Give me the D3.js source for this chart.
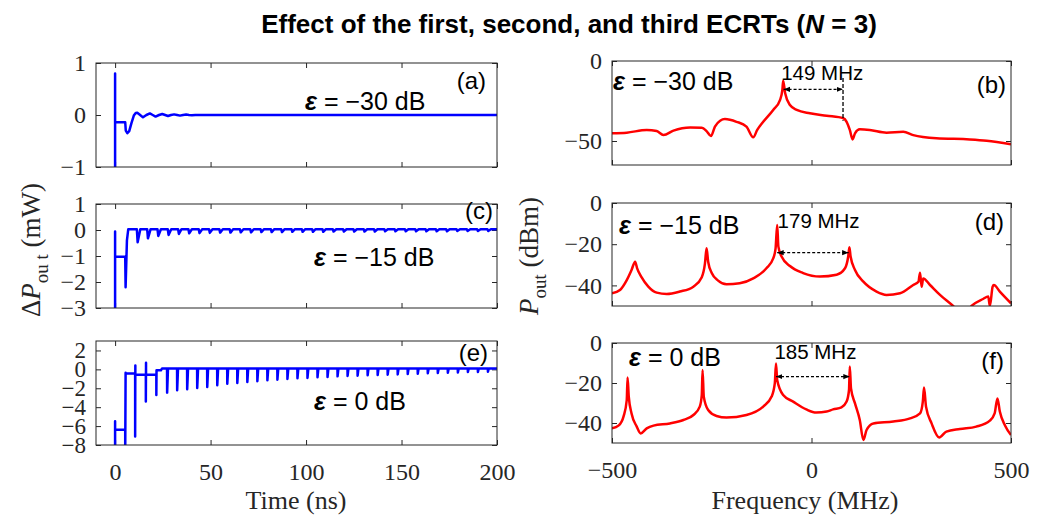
<!DOCTYPE html>
<html><head><meta charset="utf-8">
<script src="https://cdn.jsdelivr.net/npm/d3@7"></script>
<style>body{margin:0;background:#fff}</style>
</head><body>
<svg id="c" width="1040" height="519"></svg>
<script>
// ---------------- DATA ----------------
const timeTicks = [0, 50, 100, 150, 200];
const freqTicks = [-500, 0, 500];
const yTicksA = [-1, 0, 1];
const yTicksC = [-3, -2, -1, 0, 1];
const yTicksE = [-8, -6, -4, -2, 0, 2];
const yTicksB = [-50, 0];
const yTicksD = [-40, -20, 0];
const yTicksF = [-40, -20, 0];

const epsLabels = ["−30 dB", "−15 dB", "0 dB"];
const spacingLabels = ["149 MHz", "179 MHz", "185 MHz"];
// arrow ends [f1, f2, level dBm]
const arrowB = [-70, 79, -17.7];
const arrowD = [-86, 93, -24.1];
const arrowF = [-89, 96, -16.8];
const markerLineB = [79, -10.6, -37.3];

// (a) eps = -30 dB, time trace [t (ns), dP (mW)]
const traceA = [[0,-1.3],[0,0.8],[0,-0.14],[5.3,-0.14],[5.6,-0.3],[6.4,-0.35],[7.4,-0.31],[8.6,-0.15],
  [9.8,-0.01],[10.8,0.04],[11.6,0.045],[12.8,0.01],[14.6,-0.045],[16.4,0],[18.2,0.03],[19.7,0],
  [21.2,-0.03],[23,0],[24.7,0.02],[26.2,0],[27.7,-0.02],[29.3,0],[30.9,0.012],[32.5,0],[34,-0.012],
  [35.6,0],[37.2,0.008],[38.7,0],[40.2,-0.006],[42,0],[200,0]];

// (c) eps = -15 dB
const traceCStart = [[0,-3.3],[0,-0.06],[0,-1.03],[5.3,-1.03],[5.5,-2.2],[6.2,-0.4],[6.9,0.03]];
const baseC = 0.03;
const dipTimesC = [11.4,16.8,22.2,27.6,33.0,38.4,43.8,49.2,54.6,60.0,65.4,70.8,76.2,81.6,87.0,92.4,97.8,
  103.2,108.6,114.0,119.4,124.8,130.2,135.6,141.0,146.4,151.8,157.2,162.6,168.0,173.4,178.8,184.2,189.6,195.0];
const dipDepthsC = [-0.47,-0.32,-0.23,-0.19,-0.15,-0.13,-0.12,-0.11,-0.10,-0.10,-0.09,-0.09,-0.08,-0.08,
  -0.08,-0.07,-0.07,-0.07,-0.07,-0.06,-0.06,-0.06,-0.06,-0.06,-0.05,-0.05,-0.05,-0.05,-0.05,-0.05,-0.05,
  -0.04,-0.04,-0.04,-0.04];

// (e) eps = 0 dB
const traceEStart = [[0,-9],[0,-5.5],[0,-6.4],[5.3,-6.4],[5.3,-9],[5.5,-0.35],[5.5,-0.45],[10.5,-0.45],
  [10.5,-7.1],[10.6,0.4],[10.6,-0.56],[16.1,-0.56],[16.1,-3.4],[16.2,0.7],[16.2,-0.56],[21.6,-0.56],
  [21.6,-2.7],[21.7,-0.1],[24,-0.1],[24.6,0.1]];
const baseE = 0.1;
const spikeTimesE = [27.2,32.45,37.7,42.95,48.2,53.45,58.7,63.95,69.2,74.45,79.7,84.95,90.2,95.45,100.7,
  105.95,111.2,116.45,121.7,126.95,132.2,137.45,142.7,147.95,153.2,158.45,163.7,168.95,174.2,179.45,184.7,189.95,195.2];
const spikeDepthsE = [-2.46,-2.21,-2.1,-1.96,-1.86,-1.68,-1.51,-1.44,-1.33,-1.26,-1.16,-1.09,-1.02,-0.95,
  -0.91,-0.84,-0.81,-0.74,-0.70,-0.67,-0.63,-0.60,-0.56,-0.53,-0.49,-0.46,-0.42,-0.39,-0.35,-0.32,-0.28,-0.28,-0.25];

// spectra [f (MHz), Pout (dBm)]
const specB = [[-500,-45.2],[-463,-44.8],[-413,-43.1],[-388,-43.8],[-371,-46.3],[-346,-43.5],[-304,-41.5],
  [-275,-41.7],[-263,-43.8],[-252,-46.9],[-242,-41],[-229,-37.3],[-217,-36.3],[-188,-38],[-163,-41],
  [-146,-47.7],[-136,-43.1],[-121,-38],[-96,-30.6],[-79,-24.4],[-73,-18.1],[-71,-12.3],[-66,-20.2],
  [-54,-27.5],[-37,-30.6],[-4,-32.7],[38,-34.2],[80,-35.8],[88,-38],[96,-43.1],[103,-49],[109,-45.2],
  [121,-42.7],[146,-43.1],[188,-44.8],[230,-44.2],[255,-46.3],[313,-48.3],[397,-49],[439,-49.8],[500,-52]];
const specD = [[-500,-43.8],[-480,-42.2],[-463,-37.4],[-451,-32.5],[-442,-28.5],[-437,-31.7],[-426,-36],
  [-409,-40.6],[-388,-43.5],[-363,-44.2],[-330,-43],[-296,-40.6],[-275,-36],[-267,-29.3],[-263,-22],
  [-259,-28.5],[-250,-34],[-234,-37.7],[-213,-39.5],[-180,-39],[-146,-36.6],[-113,-31.7],[-96,-26.9],
  [-90,-22],[-86,-10.7],[-83,-21.2],[-75,-26],[-54,-30.6],[-21,-34],[21,-35.7],[63,-34.8],[84,-31.7],
  [92,-26],[95,-21.5],[98,-26],[109,-32.5],[130,-38.2],[163,-43],[188,-44.6],[222,-43.8],[255,-39.8],
  [268,-38.2],[272,-33.8],[276,-40.6],[280,-36.6],[297,-39.8],[322,-44.6],[355,-50],[372,-53],[388,-53],
  [401,-50],[430,-46.6],[443,-45.4],[447,-50],[454,-40.6],[457,-39.8],[472,-43],[500,-48.7]];
const specF = [[-500,-42.7],[-483,-41.2],[-471,-36.7],[-463,-28.5],[-461,-17.2],[-458,-26.8],[-451,-35.2],
  [-438,-41.8],[-428,-45.2],[-413,-42.7],[-396,-41.3],[-355,-40.2],[-321,-38.5],[-296,-36],[-280,-31.8],
  [-275,-26],[-273,-13.5],[-270,-26.8],[-259,-33.5],[-238,-36.5],[-213,-37.3],[-163,-36],[-121,-31.8],
  [-100,-26.8],[-92,-20.2],[-89,-10.2],[-86,-18.5],[-71,-26],[-46,-29.3],[-13,-33.2],[12,-34.8],[38,-34.3],
  [54,-33.2],[75,-32.2],[88,-29.3],[94,-23.5],[96,-11.8],[99,-22.7],[109,-30.2],[121,-38.5],[130,-48.5],
  [138,-43.5],[155,-40.2],[205,-39.3],[247,-37.7],[272,-35.2],[279,-29.3],[282,-22.2],[287,-31.8],
  [301,-40.2],[320,-47.2],[338,-44.3],[372,-43],[413,-41.8],[447,-38.8],[459,-35.2],[466,-27.7],
  [472,-34.3],[485,-41.2],[500,-46]];

// ---------------- BUILD TRACES ----------------
function withDips(start, times, depths, base, down, up) {
  const out = start.slice();
  out.push([times[0], base]);
  times.forEach((t, i) => {
    out.push([t, base]);
    out.push([t + down, depths[i]]);
    out.push([t + up, base]);
  });
  out.push([200, base]);
  return out;
}
const traceC = withDips(traceCStart, dipTimesC, dipDepthsC, baseC, 0.4, 1.8);
const traceE = withDips(traceEStart, spikeTimesE, spikeDepthsE, baseE, 0.05, 0.5);

// ---------------- DRAW ----------------
const svg = d3.select('#c');
const defs = svg.append('defs');
defs.append('marker').attr('id', 'ah').attr('viewBox', '0 0 10 10')
  .attr('refX', 10).attr('refY', 5).attr('markerWidth', 5).attr('markerHeight', 5)
  .attr('orient', 'auto-start-reverse')
  .append('path').attr('d', 'M0,1L10,5L0,9Z').attr('fill', '#000');

const AX = '#262626';
const SERIF = "'Liberation Serif','DejaVu Serif',serif";
const SANS = "'Liberation Sans',Arial,sans-serif";

const L = {x0: 96, x1: 497};
const R = {x0: 612, x1: 1011};
const panels = [
  {id:'a', ...L, y0:63, y1:167, xdom:[-10,200], ydom:[-1,1], xt:timeTicks, yt:yTicksA, data:traceA, color:'#0000ff', curve:d3.curveLinear, showX:false, letter:'(a)', lx:486, ly:89, eps:epsLabels[0], ex:305, ey:110},
  {id:'c', ...L, y0:204, y1:308, xdom:[-10,200], ydom:[-3,1], xt:timeTicks, yt:yTicksC, data:traceC, color:'#0000ff', curve:d3.curveLinear, showX:false, letter:'(c)', lx:493, ly:219, eps:epsLabels[1], ex:314, ey:266},
  {id:'e', ...L, y0:341, y1:445, xdom:[-10,200], ydom:[-8,3], xt:timeTicks, yt:yTicksE, data:traceE, color:'#0000ff', curve:d3.curveLinear, showX:true, letter:'(e)', lx:488, ly:361, eps:epsLabels[2], ex:314, ey:410},
  {id:'b', ...R, y0:61, y1:165, xdom:[-500,500], ydom:[-65,0], xt:freqTicks, yt:yTicksB, data:specB, color:'#ff0000', curve:d3.curveMonotoneX, showX:false, letter:'(b)', lx:1006, ly:93, eps:epsLabels[0], ex:613, ey:90, ann:{arrow:arrowB, text:spacingLabels[0], tf:-76, tv:-11.9, vline:markerLineB}},
  {id:'d', ...R, y0:203, y1:306, xdom:[-500,500], ydom:[-50,0], xt:freqTicks, yt:yTicksD, data:specD, color:'#ff0000', curve:d3.curveMonotoneX, showX:false, letter:'(d)', lx:1004, ly:230, eps:epsLabels[1], ex:619, ey:234, ann:{arrow:arrowD, text:spacingLabels[1], tf:-85, tv:-12.1}},
  {id:'f', ...R, y0:343, y1:443, xdom:[-500,500], ydom:[-50,0], xt:freqTicks, yt:yTicksF, data:specF, color:'#ff0000', curve:d3.curveMonotoneX, showX:true, letter:'(f)', lx:1004, ly:369, eps:epsLabels[2], ex:629, ey:366, ann:{arrow:arrowF, text:spacingLabels[2], tf:-93, tv:-8}},
];

function styleAxis(g) {
  g.attr('font-family', SERIF).attr('font-size', 24).attr('color', AX);
  g.select('.domain').remove();
  g.selectAll('.tick line').attr('stroke', AX).attr('stroke-width', 1);
  g.selectAll('.tick text').attr('fill', AX);
}

panels.forEach(p => {
  const x = d3.scaleLinear().domain(p.xdom).range([p.x0, p.x1]);
  const y = d3.scaleLinear().domain(p.ydom).range([p.y1, p.y0]);
  const g = svg.append('g');
  const cid = 'clip' + p.id;
  defs.append('clipPath').attr('id', cid).append('rect')
    .attr('x', p.x0).attr('y', p.y0).attr('width', p.x1 - p.x0).attr('height', p.y1 - p.y0);

  // axes (ticks inward, mirrored)
  g.append('g').attr('transform', `translate(0,${p.y1})`)
    .call(d3.axisBottom(x).tickValues(p.xt).tickSize(-5).tickPadding(18)
      .tickFormat(p.showX ? d3.format('d') : () => ''))
    .call(styleAxis);
  g.append('g').attr('transform', `translate(0,${p.y0})`)
    .call(d3.axisTop(x).tickValues(p.xt).tickSize(-5).tickFormat(() => ''))
    .call(styleAxis);
  const yAx = g.append('g').attr('transform', `translate(${p.x0},0)`)
    .call(d3.axisLeft(y).tickValues(p.yt).tickSize(-5).tickPadding(10).tickFormat(d3.format('d')))
    .call(styleAxis);
  if (p.yt.length > 5) yAx.attr('font-size', 23);
  g.append('g').attr('transform', `translate(${p.x1},0)`)
    .call(d3.axisRight(y).tickValues(p.yt).tickSize(-5).tickFormat(() => ''))
    .call(styleAxis);

  // data line
  g.append('path').datum(p.data)
    .attr('clip-path', `url(#${cid})`)
    .attr('fill', 'none').attr('stroke', p.color).attr('stroke-width', 2.5)
    .attr('stroke-linejoin', 'round')
    .attr('d', d3.line().x(d => x(d[0])).y(d => y(d[1])).curve(p.curve));

  // frame
  g.append('rect').attr('x', p.x0).attr('y', p.y0)
    .attr('width', p.x1 - p.x0).attr('height', p.y1 - p.y0)
    .attr('fill', 'none').attr('stroke', AX).attr('stroke-width', 1);

  // epsilon label
  const t = g.append('text').attr('x', p.ex).attr('y', p.ey)
    .attr('font-family', SANS).attr('font-size', 25).attr('fill', '#000');
  t.append('tspan').attr('font-style', 'italic').attr('font-weight', 'bold').text('ε');
  t.append('tspan').text(' = ' + p.eps);

  // panel letter
  g.append('text').attr('x', p.lx).attr('y', p.ly).attr('text-anchor', 'end')
    .attr('font-family', SANS).attr('font-size', 24).attr('fill', '#000').text(p.letter);

  // spacing annotation
  if (p.ann) {
    const a = p.ann;
    g.append('line').attr('x1', x(a.arrow[0])).attr('x2', x(a.arrow[1]))
      .attr('y1', y(a.arrow[2])).attr('y2', y(a.arrow[2]))
      .attr('stroke', '#000').attr('stroke-width', 1.3).attr('stroke-dasharray', '3,2')
      .attr('marker-start', 'url(#ah)').attr('marker-end', 'url(#ah)');
    if (a.vline) {
      g.append('line').attr('x1', x(a.vline[0])).attr('x2', x(a.vline[0]))
        .attr('y1', y(a.vline[1])).attr('y2', y(a.vline[2]))
        .attr('stroke', '#000').attr('stroke-width', 1.3).attr('stroke-dasharray', '4,2');
    }
    g.append('text').attr('x', x(a.tf)).attr('y', y(a.tv))
      .attr('font-family', SANS).attr('font-size', 20.5).attr('fill', '#000').text(a.text);
  }
});

// axis titles
function xTitle(cx, txt) {
  svg.append('text').attr('x', cx).attr('y', 509).attr('text-anchor', 'middle')
    .attr('font-family', SERIF).attr('font-size', 26).attr('fill', AX).text(txt);
}
xTitle(296, 'Time (ns)');
xTitle(805, 'Frequency (MHz)');

// left y title
const yl = svg.append('text').attr('transform', 'translate(40,250) rotate(-90)')
  .attr('text-anchor', 'middle').attr('font-family', SERIF).attr('font-size', 27).attr('fill', AX);
yl.append('tspan').text('Δ');
yl.append('tspan').attr('font-style', 'italic').text('P');
yl.append('tspan').attr('font-size', 19).attr('dy', 8).text('ou t');
yl.append('tspan').attr('dy', -8).text(' (mW)');

// right y title
const yr = svg.append('text').attr('transform', 'translate(538,256) rotate(-90)')
  .attr('text-anchor', 'middle').attr('font-family', SERIF).attr('font-size', 27).attr('fill', AX);
yr.append('tspan').attr('font-style', 'italic').text('P');
yr.append('tspan').attr('font-size', 19).attr('dy', 8).text('out');
yr.append('tspan').attr('dy', -8).text(' (dBm)');

// title
const tt = svg.append('text').attr('x', 569).attr('y', 33).attr('text-anchor', 'middle')
  .attr('font-family', SANS).attr('font-weight', 'bold').attr('font-size', 26).attr('fill', '#000');
tt.append('tspan').text('Effect of the first, second, and third ECRTs (');
tt.append('tspan').attr('font-style', 'italic').text('N');
tt.append('tspan').text(' = 3)');
</script>
</body></html>
